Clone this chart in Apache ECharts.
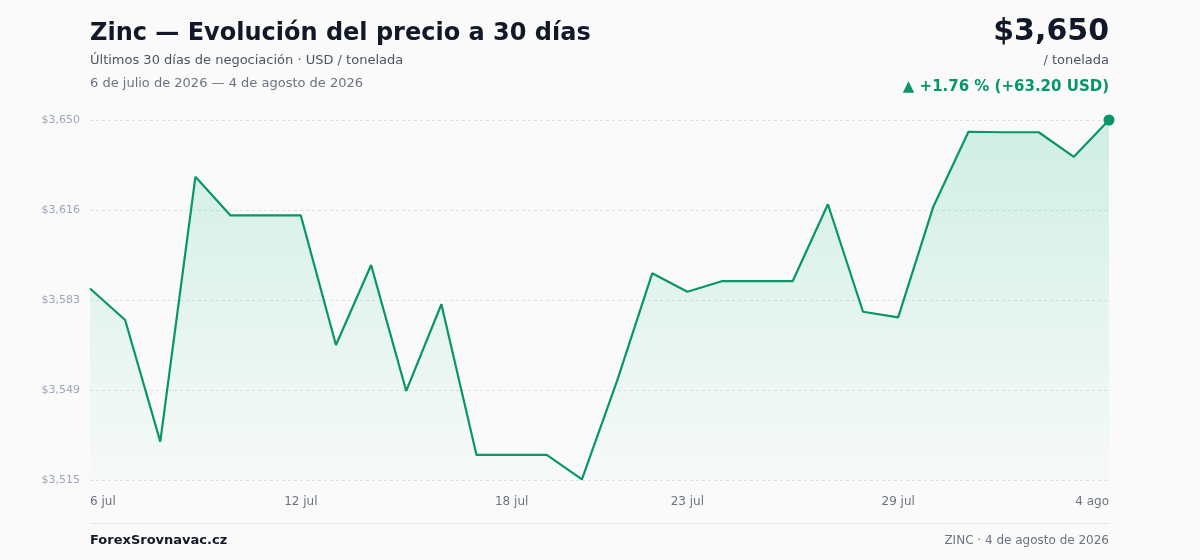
<!DOCTYPE html>
<html>
<head>
<meta charset="utf-8">
<script src="https://cdn.jsdelivr.net/npm/echarts@6/dist/echarts.min.js"></script>
<style>
html,body{margin:0;padding:0;background:#fafafa;}
#chart{width:1200px;height:560px;}
</style>
</head>
<body>
<div id="chart"></div>
<script>
const categories = ["6 jul","7 jul","8 jul","9 jul","10 jul","11 jul","12 jul","13 jul","14 jul","15 jul","16 jul","17 jul","18 jul","19 jul","20 jul","21 jul","22 jul","23 jul","24 jul","25 jul","26 jul","27 jul","28 jul","29 jul","30 jul","31 jul","1 ago","2 ago","3 ago","4 ago"];
const prices = [3586.8, 3575.0, 3529.4, 3628.7, 3614.2, 3614.2, 3614.2, 3565.6, 3595.6, 3548.4, 3580.9, 3524.4, 3524.4, 3524.4, 3515.2, 3552.2, 3592.5, 3585.6, 3589.6, 3589.6, 3589.6, 3618.4, 3578.1, 3576.0, 3617.5, 3645.6, 3645.4, 3645.4, 3636.2, 3650.0];
const shownLabelIndexes = [0, 6, 12, 17, 23, 29];
const yMin = 3515, yMax = 3650, yInterval = 33.75;

const titleText = "Zinc — Evolución del precio a 30 días";
const subtitleText = "Últimos 30 días de negociación · USD / tonelada";
const dateRangeText = "6 de julio de 2026 — 4 de agosto de 2026";
const priceText = "$3,650";
const unitText = "/ tonelada";
const changeText = "▲ +1.76 % (+63.20 USD)";
const sourceText = "ForexSrovnavac.cz";
const footerRightText = "ZINC · 4 de agosto de 2026";

const FONT = "'DejaVu Sans', sans-serif";
const GREEN = "#079669";

function txt(x, y, text, font, fill, align) {
  return {
    type: 'text', x: x, y: y, silent: true,
    style: { text: text, font: font, fill: fill, textAlign: align || 'left', align: align || 'left', textVerticalAlign: 'middle', verticalAlign: 'middle' }
  };
}

const chart = echarts.init(document.getElementById('chart'), null, { renderer: 'canvas' });
const last = prices.length - 1;
chart.setOption({
  backgroundColor: '#fafafa',
  animation: false,
  grid: { left: 90, right: 91, top: 120, bottom: 80, containLabel: false },
  xAxis: {
    type: 'category',
    data: categories,
    boundaryGap: false,
    axisLine: { show: false },
    axisTick: { show: false },
    splitLine: { show: false },
    axisLabel: {
      interval: function (i) { return shownLabelIndexes.indexOf(i) >= 0; },
      color: '#6b7280', fontSize: 12, fontFamily: FONT, margin: 16,
      alignMinLabel: 'left', alignMaxLabel: 'right'
    }
  },
  yAxis: {
    type: 'value',
    min: yMin, max: yMax, interval: yInterval,
    axisLine: { show: false },
    axisTick: { show: false },
    axisLabel: {
      color: '#9ca6b8', fontSize: 11, fontFamily: FONT, margin: 10,
      formatter: function (v) { return '$' + Math.round(v).toLocaleString('en-US'); }
    },
    splitLine: { show: true, lineStyle: { color: '#dfe2e6', type: [3, 3], width: 1 } }
  },
  series: [{
    type: 'line',
    data: prices,
    smooth: false,
    symbol: 'circle',
    showSymbol: true,
    showAllSymbol: true,
    symbolSize: function (v, p) { return p.dataIndex === last ? 11 : 0; },
    itemStyle: { color: GREEN },
    lineStyle: { color: GREEN, width: 2.2 },
    areaStyle: {
      color: new echarts.graphic.LinearGradient(0, 0, 0, 1, [
        { offset: 0, color: 'rgba(16,185,129,0.26)' },
        { offset: 1, color: 'rgba(16,185,129,0.02)' }
      ])
    },
    z: 3
  }],
  graphic: [
    txt(90, 34, titleText, "bold 24px " + FONT, '#111827'),
    txt(90, 61, subtitleText, "13px " + FONT, '#4b5563'),
    txt(90, 84, dateRangeText, "13px " + FONT, '#6b7280'),
    txt(1109, 32, priceText, "bold 30px " + FONT, '#111827', 'right'),
    txt(1109, 61, unitText, "13px " + FONT, '#4b5563', 'right'),
    txt(1109, 87, changeText, "bold 15px " + FONT, GREEN, 'right'),
    { type: 'line', silent: true, shape: { x1: 90, y1: 523.5, x2: 1109, y2: 523.5 }, style: { stroke: '#e5e7eb', lineWidth: 1 } },
    txt(90, 541, sourceText, "bold 13px " + FONT, '#111827'),
    txt(1109, 541, footerRightText, "12px " + FONT, '#6b7280', 'right')
  ]
});
</script>
</body>
</html>
